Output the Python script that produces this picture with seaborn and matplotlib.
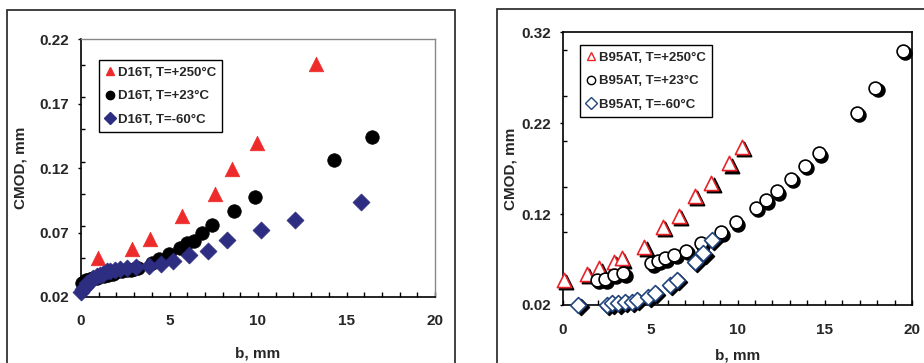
import numpy as np
import pandas as pd
import matplotlib
matplotlib.use("Agg")
import matplotlib.pyplot as plt
import seaborn as sns
from matplotlib.ticker import MultipleLocator, FixedLocator, FormatStrFormatter
from matplotlib.transforms import ScaledTranslation
from matplotlib.patches import Rectangle
from matplotlib.lines import Line2D

# ---------------- data (left: D16T) ----------------
d16_250_b = [0.94, 2.88, 3.88, 5.71, 7.57, 8.55, 9.94, 13.26]
d16_250_v = [0.050, 0.057, 0.065, 0.083, 0.100, 0.119, 0.139, 0.201]

d16_23_b = [0.05, 0.15, 0.3, 0.5, 0.7, 0.9, 1.1, 1.3, 1.5, 1.8, 2.0, 2.3, 2.6, 2.8, 3.0,
            3.24, 4.0, 4.43, 4.97, 5.61, 6.01, 6.40, 6.85, 7.42, 8.64, 9.81, 14.31, 16.42]
d16_23_v = [0.031, 0.032, 0.033, 0.034, 0.0345, 0.035, 0.036, 0.0365, 0.037, 0.038, 0.039,
            0.040, 0.041, 0.041, 0.042, 0.0422, 0.0461, 0.0492, 0.0533, 0.0577, 0.0616,
            0.0637, 0.0694, 0.0756, 0.0864, 0.0973, 0.1262, 0.1443]

d16_m60_b = [0.0, 0.1, 0.2, 0.36, 0.5, 0.70, 0.9, 1.07, 1.25, 1.45, 1.65, 1.92, 2.2,
             2.58, 3.1, 3.84, 4.50, 5.22, 6.08, 7.19, 8.23, 10.15, 12.07, 15.82]
d16_m60_v = [0.0241, 0.026, 0.028, 0.0306, 0.032, 0.0345, 0.036, 0.037, 0.038, 0.0398,
             0.040, 0.041, 0.0415, 0.0427, 0.0435, 0.0443, 0.0453, 0.0479, 0.0526, 0.0557,
             0.0642, 0.0719, 0.0797, 0.0936]

# ---------------- data (right: B95AT) ----------------
b95_250_b = [0.07, 1.36, 2.08, 2.90, 3.38, 4.66, 5.73, 6.63, 7.56, 8.50, 9.53, 10.26]
b95_250_v = [0.0475, 0.054, 0.0603, 0.0676, 0.0713, 0.0841, 0.106, 0.1178, 0.1398,
             0.1544, 0.1757, 0.194]

b95_23_b = [1.93, 2.39, 2.91, 3.46, 5.06, 5.44, 5.83, 6.38, 7.05, 7.89, 9.07, 9.91, 11.06,
            11.63, 12.25, 13.05, 13.85, 14.65, 16.85, 17.9, 19.48]
b95_23_v = [0.0475, 0.0482, 0.053, 0.0548, 0.0658, 0.0687, 0.0713, 0.0749, 0.0797, 0.0878,
            0.0999, 0.1109, 0.1266, 0.135, 0.1449, 0.1582, 0.1727, 0.1867, 0.2313, 0.2588,
            0.2995]

b95_m60_b = [0.88, 2.50, 2.79, 3.17, 3.55, 3.93, 4.22, 4.89, 5.27, 6.13, 6.52, 7.56, 8.04, 8.52]
b95_m60_v = [0.020, 0.020, 0.0218, 0.0218, 0.0236, 0.0236, 0.0255, 0.0291, 0.0329, 0.042,
             0.0475, 0.0676, 0.0768, 0.0914]

left_labels = ["D16T, T=+250°C", "D16T, T=+23°C", "D16T, T=-60°C"]
right_labels = ["B95AT, T=+250°C", "B95AT, T=+23°C", "B95AT, T=-60°C"]

left_yticks = [0.02, 0.07, 0.12, 0.17, 0.22]
right_yticks = [0.02, 0.12, 0.22, 0.32]
xticks = [0, 5, 10, 15, 20]

# ---------------- style ----------------
sns.set_theme(style="white")
plt.rcParams['font.family'] = ['Liberation Sans', 'DejaVu Sans']
plt.rcParams['font.weight'] = 'bold'

W, H = 924, 363
fig = plt.figure(figsize=(W / 100, H / 100), dpi=100)

def frac_axes(x0, x1, ytop, ybot):
    return fig.add_axes([x0 / W, 1 - ybot / H, (x1 - x0) / W, (ybot - ytop) / H])

axL = frac_axes(81, 435, 39, 297)
axR = frac_axes(563, 912, 32, 305)

# outer chart-area frames
fig.patches.append(Rectangle((7 / W, -0.05), (455 - 7) / W, 1 - 10 / H + 0.05,
                             transform=fig.transFigure, fill=False, ec='#333333', lw=1.3))
fig.patches.append(Rectangle((497 / W, -0.05), (930 - 497) / W, 1 - 9 / H + 0.05,
                             transform=fig.transFigure, fill=False, ec='#333333', lw=1.3))

# ---------------- left panel ----------------
red = '#ee2b2b'
navy = '#2d2d82'
dfs = [
    (pd.DataFrame({'b': d16_250_b, 'v': d16_250_v}), '^', red, 110, left_labels[0]),
    (pd.DataFrame({'b': d16_23_b, 'v': d16_23_v}), 'o', 'black', 95, left_labels[1]),
    (pd.DataFrame({'b': d16_m60_b, 'v': d16_m60_v}), 'D', navy, 75, left_labels[2]),
]
for df, m, c, s, lab in dfs:
    sns.scatterplot(data=df, x='b', y='v', ax=axL, marker=m, color=c, s=s,
                    edgecolor=c, linewidth=0.5, clip_on=False, label=lab, zorder=3)

# ---------------- right panel ----------------
shadow = ScaledTranslation(1.6 / 72, -1.6 / 72, fig.dpi_scale_trans)
rdfs = [
    (pd.DataFrame({'b': b95_250_b, 'v': b95_250_v}), '^', '#e8232a', 105, right_labels[0]),
    (pd.DataFrame({'b': b95_23_b, 'v': b95_23_v}), 'o', 'black', 85, right_labels[1]),
    (pd.DataFrame({'b': b95_m60_b, 'v': b95_m60_v}), 'D', '#23457f', 65, right_labels[2]),
]
for i, (df, m, c, s, lab) in enumerate(rdfs):
    n0 = len(axR.collections)
    sns.scatterplot(data=df, x='b', y='v', ax=axR, marker=m, color='black', s=s,
                    edgecolor='black', linewidth=1.2, clip_on=False, zorder=3 + 2 * i,
                    legend=False)
    axR.collections[n0].set_offset_transform(axR.transData + shadow)
    sns.scatterplot(data=df, x='b', y='v', ax=axR, marker=m, color='white', s=s,
                    edgecolor=c, linewidth=1.2, clip_on=False, zorder=4 + 2 * i,
                    legend=False)

def style_axis(ax, yticks, ylim, yminor, gray_tr, xpad):
    ax.set_xlim(0, 20)
    ax.set_ylim(*ylim)
    ax.xaxis.set_major_locator(FixedLocator(xticks))
    ax.xaxis.set_minor_locator(MultipleLocator(1))
    ax.yaxis.set_major_locator(FixedLocator(yticks))
    ax.yaxis.set_minor_locator(MultipleLocator(yminor))
    ax.yaxis.set_major_formatter(FormatStrFormatter('%.2f'))
    ax.xaxis.set_major_formatter(FormatStrFormatter('%d'))
    ax.tick_params(axis='x', which='both', direction='in', length=3.5, width=1,
                   color='black', labelsize=11, pad=xpad, bottom=True)
    ax.tick_params(axis='y', which='major', direction='out', length=2.5, width=1,
                   color='black', labelsize=11, pad=6, left=True)
    ax.tick_params(axis='y', which='minor', direction='in', length=3, width=1,
                   color='black', left=True)
    for lab in ax.get_xticklabels() + ax.get_yticklabels():
        lab.set_fontweight('bold')
    for sp in ['left', 'bottom']:
        ax.spines[sp].set_color('black')
        ax.spines[sp].set_linewidth(1.2)
    for sp in ['top', 'right']:
        ax.spines[sp].set_color('#888888' if gray_tr else 'black')
        ax.spines[sp].set_linewidth(1.0 if gray_tr else 1.2)
    ax.set_facecolor('white')
    ax.grid(False)

style_axis(axL, left_yticks, (0.02, 0.22), 0.025, True, 12)
style_axis(axR, right_yticks, (0.02, 0.32), 0.05, False, 13)

axL.set_xlabel('b, mm', fontsize=11, fontweight='bold')
axL.set_ylabel('CMOD, mm', fontsize=11, fontweight='bold')
axR.set_xlabel('b, mm', fontsize=11, fontweight='bold')
axR.set_ylabel('CMOD, mm', fontsize=11, fontweight='bold')
axL.xaxis.set_label_coords(0.5, -0.19)
axR.xaxis.set_label_coords(0.5, -0.16)
axL.yaxis.set_label_coords(-0.15, 0.5)
axR.yaxis.set_label_coords(-0.13, 0.5)

# legends
hL = [Line2D([], [], ls='none', marker=m, color=c, markeredgecolor=c, markersize=6)
      for _, m, c, _, _ in dfs]
legL = axL.legend(hL, left_labels, loc='upper left', bbox_to_anchor=(0.051, 0.919),
                  frameon=True, fancybox=False, edgecolor='black', framealpha=1,
                  prop={'weight': 'bold', 'size': 9.5}, handlelength=0.6,
                  handletextpad=0.3, labelspacing=0.85, borderpad=0.5, borderaxespad=0)
legL.get_frame().set_linewidth(1.0)

hR = [Line2D([], [], ls='none', marker=m, color='white', markeredgecolor=c,
             markersize=6, markeredgewidth=1.0) for _, m, c, _, _ in rdfs]
legR = axR.legend(hR, right_labels, loc='upper left', bbox_to_anchor=(0.049, 0.952),
                  frameon=True, fancybox=False, edgecolor='black', framealpha=1,
                  prop={'weight': 'bold', 'size': 9.5}, handlelength=0.6,
                  handletextpad=0.3, labelspacing=0.85, borderpad=0.5, borderaxespad=0)
legR.get_frame().set_linewidth(1.0)
legR.set_zorder(10)
legL.set_zorder(10)

fig.savefig('out.png', dpi=100, facecolor='white')
